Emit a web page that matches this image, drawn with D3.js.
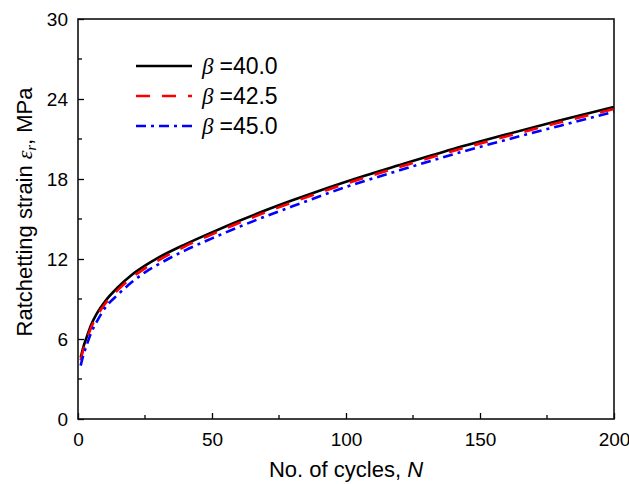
<!DOCTYPE html>
<html>
<head>
<meta charset="utf-8">
<script src="https://cdn.jsdelivr.net/npm/d3@7"></script>
<style>
  body { margin: 0; background: #fff; }
  text { font-family: Arial, "Liberation Sans", sans-serif; fill: #000; }
</style>
</head>
<body>
<div id="chart"></div>
<script>
// data
var cycles = [1, 2, 3, 5, 7, 10, 15, 20, 25, 30, 40, 50, 60, 70, 80, 100, 120, 140, 160, 180, 200];
var strain40 = [4.6, 5.4, 6.0, 7.1, 7.9, 8.8, 9.9, 10.8, 11.5, 12.1, 13.1, 14.0, 14.85, 15.65, 16.4, 17.8, 19.05, 20.25, 21.35, 22.4, 23.4];
var strain425 = [4.4, 5.2, 5.8, 6.9, 7.7, 8.6, 9.7, 10.6, 11.3, 11.9, 12.95, 13.85, 14.7, 15.5, 16.25, 17.65, 18.9, 20.1, 21.2, 22.25, 23.25];
var strain45 = [4.0, 4.8, 5.4, 6.5, 7.3, 8.3, 9.35, 10.25, 11.0, 11.6, 12.65, 13.55, 14.4, 15.2, 15.95, 17.4, 18.65, 19.85, 20.95, 22.0, 23.05];
var seriesNames = ["=40.0", "=42.5", "=45.0"];
var xTicks = [0, 50, 100, 150, 200];
var yTicks = [0, 6, 12, 18, 24, 30];

var svgWidth = 629;
var svgHeight = 484;
var margin = { top: 19, right: 15, bottom: 65, left: 78 };
var width = svgWidth - margin.left - margin.right;
var height = svgHeight - margin.top - margin.bottom;

var svg = d3.select("#chart")
  .append("svg")
  .attr("width", svgWidth)
  .attr("height", svgHeight);

var chartGroup = svg.append("g")
  .attr("transform", `translate(${margin.left}, ${margin.top})`);

var x = d3.scaleLinear().domain([0, 200]).range([0, width]);
var y = d3.scaleLinear().domain([0, 30]).range([height, 0]);

chartGroup.append("clipPath").attr("id", "clip")
  .append("rect").attr("width", width).attr("height", height);

// curves
var styles = [
  { data: strain40, color: "#000000", dash: null },
  { data: strain425, color: "#ff0000", dash: "14,12" },
  { data: strain45, color: "#0000ff", dash: "10,5,3,5" }
];

var line = d3.line()
  .x(d => x(d[0]))
  .y(d => y(d[1]))
  .curve(d3.curveMonotoneX);

styles.forEach(function(s) {
  chartGroup.append("path")
    .datum(cycles.map((c, i) => [c, s.data[i]]))
    .attr("clip-path", "url(#clip)")
    .attr("fill", "none")
    .attr("stroke", s.color)
    .attr("stroke-width", 2.6)
    .attr("stroke-dasharray", s.dash)
    .attr("d", line);
});

// axes with inward ticks
var bottomAxis = d3.axisBottom(x).tickValues(xTicks).tickSize(-6).tickPadding(14);
var leftAxis = d3.axisLeft(y).tickValues(yTicks).tickSize(-6).tickPadding(10);

var xAxisG = chartGroup.append("g")
  .attr("transform", `translate(0, ${height})`)
  .call(bottomAxis);
var yAxisG = chartGroup.append("g").call(leftAxis);

[xAxisG, yAxisG].forEach(function(g) {
  g.select(".domain").remove();
  g.selectAll("line").attr("stroke", "#000").attr("stroke-width", 1.3);
  g.selectAll("text").attr("font-size", 19).attr("font-family", "Arial, 'Liberation Sans', sans-serif");
});

// minor ticks
chartGroup.selectAll(".xminor")
  .data(d3.range(25, 200, 50))
  .enter().append("line")
  .attr("x1", d => x(d)).attr("x2", d => x(d))
  .attr("y1", height).attr("y2", height - 4)
  .attr("stroke", "#000").attr("stroke-width", 1.3);

chartGroup.selectAll(".yminor")
  .data(d3.range(3, 30, 6))
  .enter().append("line")
  .attr("x1", 0).attr("x2", 4)
  .attr("y1", d => y(d)).attr("y2", d => y(d))
  .attr("stroke", "#000").attr("stroke-width", 1.3);

// frame
chartGroup.append("rect")
  .attr("width", width).attr("height", height)
  .attr("fill", "none").attr("stroke", "#111").attr("stroke-width", 1.6);

// legend
var legend = svg.append("g").attr("transform", "translate(136, 66)");
styles.forEach(function(s, i) {
  var row = legend.append("g").attr("transform", `translate(0, ${i * 30})`);
  row.append("line")
    .attr("x1", 0).attr("x2", 56)
    .attr("y1", 0).attr("y2", 0)
    .attr("stroke", s.color)
    .attr("stroke-width", 2.6)
    .attr("stroke-dasharray", s.dash);
  var t = row.append("text").attr("x", 66).attr("y", 8).attr("font-size", 23);
  t.append("tspan")
    .attr("font-family", "'Liberation Serif', 'Times New Roman', serif")
    .attr("font-style", "italic")
    .text("\u03B2");
  t.append("tspan").attr("dx", 6).text(seriesNames[i]);
});

// axis labels
var xLabel = svg.append("text")
  .attr("x", margin.left + width / 2)
  .attr("y", 477)
  .attr("text-anchor", "middle")
  .attr("font-size", 22);
xLabel.append("tspan").text("No. of cycles, ");
xLabel.append("tspan").attr("font-style", "italic").text("N");

var yLabel = svg.append("text")
  .attr("transform", "rotate(-90)")
  .attr("x", -212)
  .attr("y", 32)
  .attr("text-anchor", "middle")
  .attr("font-size", 22);
yLabel.append("tspan").text("Ratchetting strain ");
yLabel.append("tspan")
  .attr("font-family", "'Liberation Serif', 'Times New Roman', serif")
  .attr("font-style", "italic").text("\u03B5");
yLabel.append("tspan")
  .attr("font-family", "'Liberation Serif', 'Times New Roman', serif")
  .attr("font-style", "italic").attr("font-size", 14).attr("dy", 4).text("r");
yLabel.append("tspan").attr("dy", -4).text(", MPa");
</script>
</body>
</html>
